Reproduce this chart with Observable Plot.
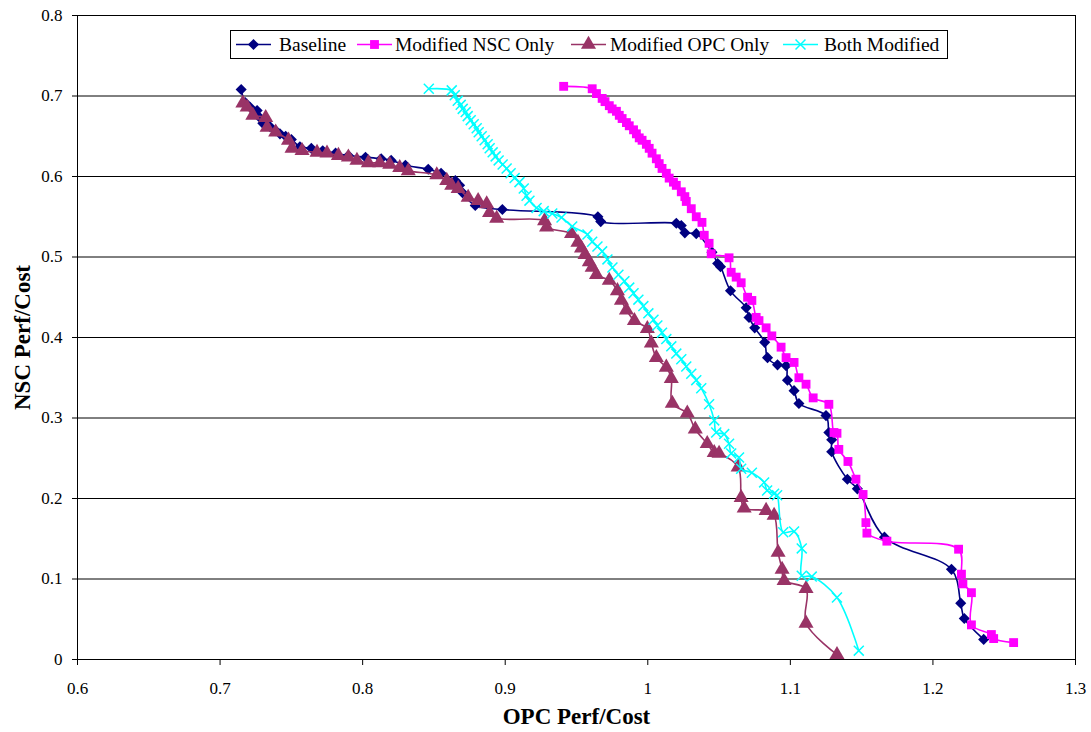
<!DOCTYPE html>
<html><head><meta charset="utf-8">
<script src="https://cdn.jsdelivr.net/npm/d3@7"></script>
<script src="https://cdn.jsdelivr.net/npm/@observablehq/plot@0.6"></script>
<style>
body{margin:0;background:#fff;}
#wrap{position:relative;width:1091px;height:732px;}
#legend{position:absolute;left:230px;top:30px;}
</style></head><body><div id="wrap"></div><script>
const seriesNames = ["Baseline", "Modified NSC Only", "Modified OPC Only", "Both Modified"];
const seriesColors = ["#000080", "#FF00FF", "#993366", "#00FFFF"];
const seriesSymbols = ["diamond2", "square", "triangle", "times"];
const xTicks = [0.6, 0.7, 0.8, 0.9, 1.0, 1.1, 1.2, 1.3];
const yTicks = [0, 0.1, 0.2, 0.3, 0.4, 0.5, 0.6, 0.7, 0.8];
const gridY = [0.1, 0.2, 0.3, 0.4, 0.5, 0.6, 0.7];

const baselineX = [0.7148,0.7176,0.7211,0.726,0.728,0.730,0.735,0.739,0.742,0.746,0.750,0.756,0.764,0.772,0.781,0.790,0.802,0.813,0.820,0.830,0.846,0.855,0.865,0.868,0.870,0.879,0.898,0.965,0.967,1.020,1.0235,1.026,1.034,1.045,1.049,1.051,1.058,1.069,1.071,1.075,1.082,1.084,1.091,1.097,1.098,1.1026,1.106,1.125,1.127,1.129,1.129,1.140,1.147,1.166,1.213,1.2195,1.222,1.2356];
const baselineY = [0.708,0.692,0.686,0.682,0.673,0.666,0.662,0.657,0.653,0.650,0.646,0.637,0.635,0.632,0.629,0.626,0.624,0.622,0.620,0.614,0.609,0.604,0.595,0.589,0.580,0.564,0.559,0.550,0.544,0.542,0.539,0.530,0.529,0.506,0.492,0.488,0.458,0.437,0.425,0.412,0.394,0.375,0.366,0.365,0.347,0.334,0.318,0.303,0.282,0.273,0.258,0.224,0.212,0.152,0.112,0.070,0.051,0.025];

const nscX = [0.941,0.961,0.964,0.968,0.970,0.973,0.975,0.978,0.980,0.982,0.985,0.987,0.990,0.992,0.994,0.996,0.999,1.001,1.003,1.006,1.008,1.010,1.013,1.015,1.018,1.020,1.0235,1.026,1.027,1.0305,1.034,1.038,1.0396,1.043,1.0445,1.057,1.0585,1.062,1.0655,1.070,1.073,1.076,1.078,1.083,1.087,1.0935,1.097,1.1026,1.106,1.111,1.116,1.127,1.1306,1.1327,1.134,1.1404,1.146,1.151,1.153,1.1537,1.1677,1.218,1.220,1.221,1.227,1.227,1.241,1.2426,1.2566];
const nscY = [0.712,0.709,0.703,0.697,0.693,0.688,0.684,0.681,0.676,0.672,0.667,0.663,0.658,0.653,0.648,0.645,0.640,0.635,0.629,0.622,0.616,0.610,0.604,0.598,0.593,0.589,0.581,0.575,0.569,0.560,0.550,0.543,0.527,0.517,0.504,0.499,0.481,0.475,0.468,0.450,0.446,0.425,0.421,0.412,0.402,0.388,0.375,0.369,0.350,0.342,0.325,0.317,0.282,0.281,0.261,0.246,0.224,0.205,0.170,0.157,0.147,0.137,0.106,0.094,0.083,0.043,0.031,0.026,0.021];

const opcX = [0.716,0.719,0.723,0.732,0.733,0.739,0.748,0.7505,0.7575,0.768,0.775,0.783,0.790,0.796,0.804,0.812,0.819,0.826,0.832,0.852,0.859,0.8625,0.867,0.874,0.881,0.887,0.889,0.894,0.9276,0.929,0.9465,0.951,0.9535,0.956,0.959,0.961,0.964,0.973,0.9787,0.9815,0.985,0.9906,0.9997,1.0025,1.006,1.013,1.0165,1.0172,1.0277,1.0333,1.0417,1.0466,1.050,1.0634,1.0655,1.0676,1.083,1.0886,1.0914,1.0942,1.0956,1.111,1.111,1.1327];
const opcY = [0.691,0.686,0.676,0.673,0.661,0.655,0.645,0.635,0.632,0.630,0.629,0.626,0.624,0.620,0.617,0.617,0.615,0.611,0.607,0.602,0.595,0.589,0.585,0.574,0.570,0.566,0.555,0.548,0.545,0.537,0.529,0.518,0.511,0.503,0.494,0.487,0.478,0.471,0.458,0.446,0.434,0.421,0.411,0.393,0.375,0.363,0.349,0.318,0.306,0.286,0.268,0.257,0.256,0.239,0.201,0.188,0.185,0.179,0.133,0.112,0.098,0.088,0.045,0.006];

const bothX = [0.8464,0.8625,0.8646,0.8667,0.8688,0.8702,0.8723,0.8737,0.8758,0.8779,0.880,0.8814,0.8835,0.8856,0.8877,0.8891,0.8912,0.8933,0.8954,0.8982,0.901,0.9038,0.9066,0.910,0.913,0.915,0.917,0.922,0.927,0.933,0.9395,0.947,0.9577,0.961,0.9647,0.968,0.9717,0.9752,0.9794,0.9836,0.987,0.990,0.9934,0.9969,1.0004,1.004,1.0067,1.010,1.013,1.0165,1.020,1.0235,1.027,1.0305,1.034,1.0375,1.043,1.0466,1.048,1.0536,1.057,1.0585,1.064,1.0655,1.073,1.0816,1.0837,1.0886,1.0907,1.095,1.1026,1.108,1.108,1.115,1.1327,1.148];
const bothY = [0.709,0.707,0.701,0.694,0.689,0.684,0.680,0.675,0.670,0.665,0.660,0.655,0.650,0.645,0.640,0.635,0.630,0.625,0.620,0.615,0.610,0.604,0.598,0.593,0.585,0.576,0.570,0.561,0.557,0.554,0.549,0.538,0.528,0.519,0.513,0.507,0.497,0.487,0.478,0.470,0.462,0.455,0.447,0.439,0.430,0.422,0.415,0.406,0.398,0.389,0.380,0.373,0.364,0.355,0.347,0.337,0.317,0.297,0.282,0.280,0.268,0.256,0.251,0.237,0.232,0.220,0.210,0.206,0.204,0.158,0.159,0.138,0.104,0.103,0.077,0.011];

const xs = [baselineX, nscX, opcX, bothX];
const ys = [baselineY, nscY, opcY, bothY];
const series = xs.map((xa, i) => xa.map((x, j) => ({x, y: ys[i][j]})));

const fmt = d => String(+d.toFixed(2));
const serif = "'Liberation Serif', 'Times New Roman', serif";
const radii = [5, 5, 5.6, 4.6];

const marks = [
  Plot.ruleY(gridY, {stroke: "#000", strokeWidth: 1}),
  Plot.frame({stroke: "#000", strokeWidth: 1}),
  Plot.axisX({ticks: xTicks, tickSize: 6, tickPadding: 16, tickFormat: fmt, label: null, fontSize: 17, fontFamily: serif}),
  Plot.axisY({ticks: yTicks, tickSize: 5, tickPadding: 10, tickFormat: fmt, label: null, fontSize: 17, fontFamily: serif}),
  Plot.text(["OPC Perf/Cost"], {frameAnchor: "bottom", dy: 64, fontSize: 23, fontWeight: "bold", fontFamily: serif, fill: "#000"}),
  Plot.text(["NSC Perf/Cost"], {frameAnchor: "left", textAnchor: "middle", dx: -55, rotate: -90, fontSize: 23, fontWeight: "bold", fontFamily: serif, fill: "#000"})
];
series.forEach((data, i) => {
  marks.push(Plot.line(data, {x: "x", y: "y", stroke: seriesColors[i], strokeWidth: 1.6, curve: "catmull-rom"}));
  if (seriesSymbols[i] === "times") {
    marks.push(Plot.dot(data, {x: "x", y: "y", symbol: "times", stroke: seriesColors[i], strokeWidth: 1.5, r: radii[i]}));
  } else {
    marks.push(Plot.dot(data, {x: "x", y: "y", symbol: seriesSymbols[i], fill: seriesColors[i], stroke: "none", r: radii[i]}));
  }
});

const chart = Plot.plot({
  width: 1091, height: 732,
  marginLeft: 77, marginRight: 16, marginTop: 15, marginBottom: 73,
  x: {domain: [0.6, 1.3]},
  y: {domain: [0, 0.8]},
  style: {fontFamily: serif, background: "#fff", color: "#000"},
  marks
});
const wrap = document.getElementById("wrap");
wrap.appendChild(chart);

// legend overlay
const lw = 717, lh = 28;
const leg = d3.select(wrap).append("svg").attr("id", "legend").attr("width", lw + 1).attr("height", lh + 1);
leg.append("rect").attr("x", 0.5).attr("y", 0.5).attr("width", lw).attr("height", lh).attr("fill", "#fff").attr("stroke", "#000");
const itemLineStart = [6, 127, 341, 553];
const itemTextStart = [49, 165, 380, 594];
const symMap = {diamond2: d3.symbolDiamond2, square: d3.symbolSquare, triangle: d3.symbolTriangle, times: d3.symbolTimes};
seriesNames.forEach((name, i) => {
  const x0 = itemLineStart[i], x1 = x0 + 35, cy = lh / 2 + 0.5;
  leg.append("line").attr("x1", x0).attr("x2", x1).attr("y1", cy).attr("y2", cy).attr("stroke", seriesColors[i]).attr("stroke-width", 1.6);
  const p = leg.append("path").attr("transform", `translate(${(x0 + x1) / 2},${cy})`)
    .attr("d", d3.symbol(symMap[seriesSymbols[i]], Math.PI * radii[i] * radii[i])());
  if (seriesSymbols[i] === "times") p.attr("fill", "none").attr("stroke", seriesColors[i]).attr("stroke-width", 1.5);
  else p.attr("fill", seriesColors[i]);
  leg.append("text").attr("x", itemTextStart[i]).attr("y", cy).attr("dy", "0.35em")
    .attr("font-family", serif).attr("font-size", 19.5).attr("fill", "#000").text(name);
});
</script></body></html>
